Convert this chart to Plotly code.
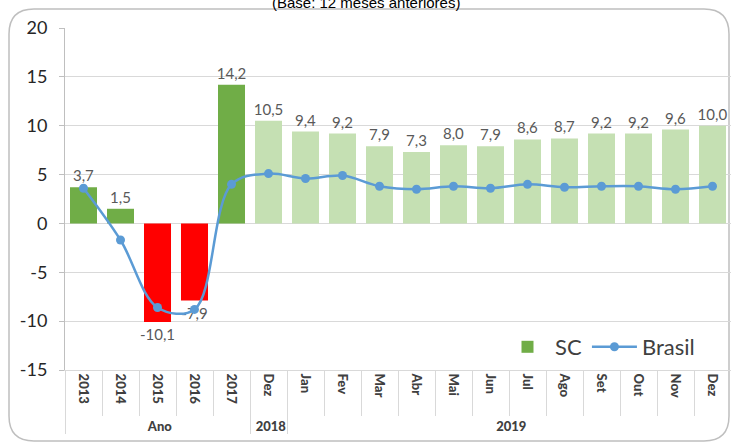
import plotly.graph_objects as go

groups = ["Ano"] * 5 + ["2018"] + ["2019"] * 12
periods = ["2013", "2014", "2015", "2016", "2017", "Dez",
           "Jan", "Fev", "Mar", "Abr", "Mai", "Jun", "Jul", "Ago", "Set", "Out", "Nov", "Dez "]
sc = [3.7, 1.5, -10.1, -7.9, 14.2, 10.5, 9.4, 9.2, 7.9, 7.3, 8.0, 7.9, 8.6, 8.7, 9.2, 9.2, 9.6, 10.0]
brasil = [3.6, -1.7, -8.6, -8.8, 4.0, 5.1, 4.6, 4.9, 3.8, 3.5, 3.8, 3.6, 4.0, 3.7, 3.8, 3.8, 3.5, 3.8]
y_ticks = [-15, -10, -5, 0, 5, 10, 15, 20]

# cores estilo Excel
def bar_color(i, v):
    if i >= 5:
        return "#C5E0B3"
    return "#70AD47" if v >= 0 else "#FF0000"

colors = [bar_color(i, v) for i, v in enumerate(sc)]
labels = [f"{v:.1f}".replace(".", ",") for v in sc]

W, H = 731, 442
L, R, T, B = 65, 0, 28, 72
pw, ph = W - L - R, H - T - B

def px(x):
    return (x - L) / pw

def py(y):
    return (T + ph - y) / ph

fig = go.Figure()
fig.add_trace(go.Bar(
    x=[groups, periods], y=sc, name="SC",
    marker=dict(color=colors, line=dict(width=0)),
    text=labels, textposition="outside", cliponaxis=False, constraintext="none",
    textfont=dict(size=15, color="#595959", family="Lato"),
))
fig.add_trace(go.Scatter(
    x=[groups, periods], y=brasil, name="Brasil", mode="lines+markers",
    line=dict(color="#5B9BD5", width=2.5, shape="spline", smoothing=1),
    marker=dict(size=9, color="#5B9BD5"),
))

# moldura arredondada
r = 25
x0, x1, y0, y1 = 9, 729, 9, 441
path = (f"M {px(x0)},{py(y0 + r)} Q {px(x0)},{py(y0)} {px(x0 + r)},{py(y0)} "
        f"L {px(x1 - r)},{py(y0)} Q {px(x1)},{py(y0)} {px(x1)},{py(y0 + r)} "
        f"L {px(x1)},{py(y1 - r)} Q {px(x1)},{py(y1)} {px(x1 - r)},{py(y1)} "
        f"L {px(x0 + r)},{py(y1)} Q {px(x0)},{py(y1)} {px(x0)},{py(y1 - r)} Z")
fig.add_shape(type="path", xref="paper", yref="paper", path=path,
              line=dict(color="#BFBFBF", width=1.5), layer="below")

fig.add_annotation(text="(Base: 12 meses anteriores)", xref="paper", yref="paper",
                   x=px(366), y=py(2), yanchor="middle", showarrow=False,
                   font=dict(size=15, color="#000000", family="Arial"))

fig.update_layout(
    width=W, height=H,
    margin=dict(l=L, r=R, t=T, b=B),
    paper_bgcolor="white", plot_bgcolor="white",
    font=dict(family="Lato", color="#404040"),
    bargap=0.27,
    showlegend=True,
    legend=dict(orientation="h", x=px(700), xanchor="right", y=py(347), yanchor="middle",
                font=dict(size=22, color="#404040"), bgcolor="rgba(0,0,0,0)",
                itemwidth=45),
    xaxis=dict(
        type="multicategory", tickangle=90, range=[-0.5, len(sc) - 0.5],
        automargin=False,
        tickfont=dict(size=13, color="#404040", family="Lato Black"),
        showgrid=False, showline=True, linecolor="#D9D9D9",
        ticks="outside", ticklen=45, tickcolor="#D9D9D9",
        showdividers=True, dividercolor="#D9D9D9", dividerwidth=1,
    ),
    yaxis=dict(
        range=[-15, 20], tickvals=y_ticks, ticktext=[str(v) for v in y_ticks],
        automargin=False,
        showgrid=True, gridcolor="#D9D9D9", zeroline=False,
        showline=True, linecolor="#BFBFBF",
        ticks="outside", ticklen=5, tickcolor="#BFBFBF",
        tickfont=dict(size=18, color="#262626", family="Lato"),
        ticklabelstandoff=8,
    ),
)

# a página padrão tem margem de 8px no body
fig.write_html("out.html", config={"displayModeBar": False},
               post_script="document.body.style.margin='0';")
